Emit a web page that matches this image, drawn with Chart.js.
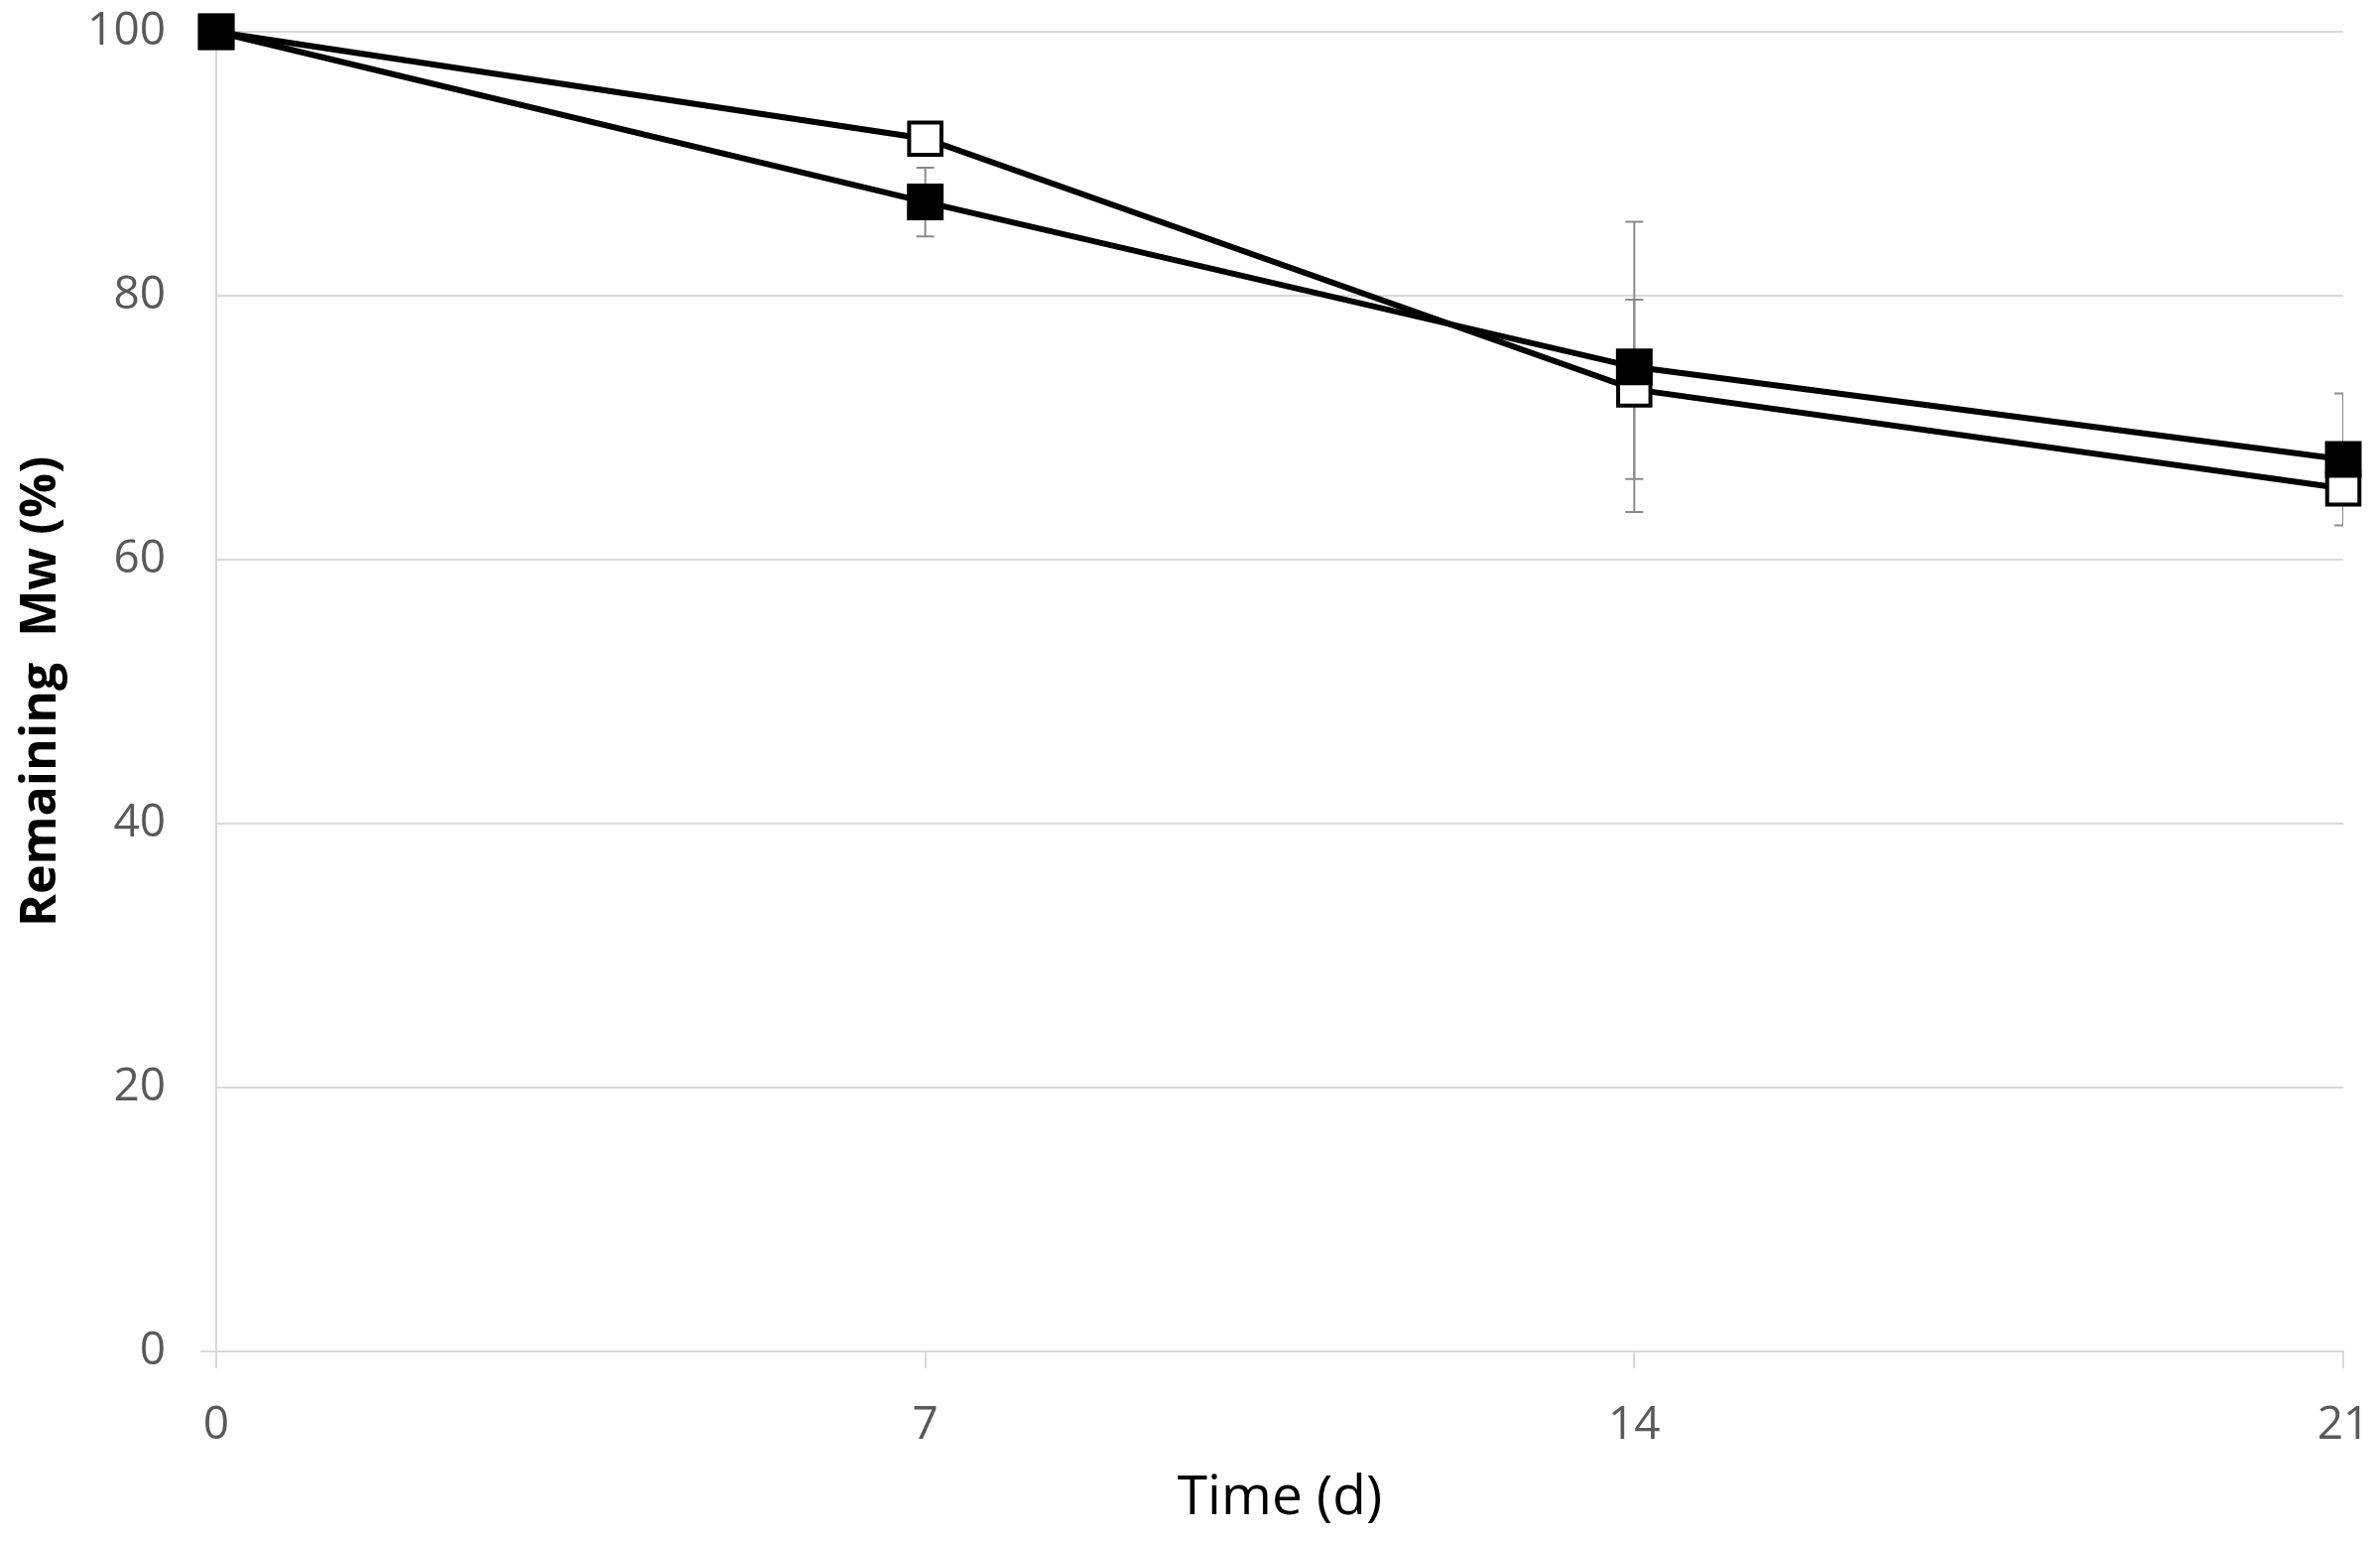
<!DOCTYPE html>
<html>
<head>
<meta charset="utf-8">
<script src="https://cdn.jsdelivr.net/npm/chart.js@4"></script>
<style>
  html, body { margin: 0; padding: 0; background: #fff; }
  #wrap { width: 2399px; height: 1553px; }
</style>
</head>
<body>
<div id="wrap"><canvas id="mwChart"></canvas></div>
<script>
// days of incubation
const days = [0, 7, 14, 21];
// remaining Mw (%), filled squares and open squares
const filledMw = [100, 87.1, 74.6, 67.6];
const filledErr = [0, 2.6, 11.0, 5.0];
const openMw = [100, 91.9, 72.9, 65.4];
const openErr = [0, 1.0, 6.8, 1.0];
const yTicks = [0, 20, 40, 60, 80, 100];

function toPoints(vals) {
    return days.map((d, i) => ({ x: d, y: vals[i] }));
}

// error bars drawn with the chart's own scales, behind the markers
const errorBars = {
    id: 'errorBars',
    beforeDatasetsDraw(chart) {
        const ctx = chart.ctx;
        const xs = chart.scales.x;
        const ys = chart.scales.y;
        const area = chart.chartArea;
        const sets = [[filledMw, filledErr], [openMw, openErr]];
        ctx.save();
        ctx.beginPath();
        ctx.rect(area.left, area.top - 40, area.right - area.left, area.bottom - area.top + 80);
        ctx.clip();
        ctx.strokeStyle = '#8a8a8a';
        ctx.lineWidth = 2;
        sets.forEach(s => {
            days.forEach((d, i) => {
                const e = s[1][i];
                if (!e) return;
                const px = xs.getPixelForValue(d);
                const top = ys.getPixelForValue(s[0][i] + e);
                const bot = ys.getPixelForValue(s[0][i] - e);
                ctx.beginPath();
                ctx.moveTo(px, top); ctx.lineTo(px, bot);
                ctx.moveTo(px - 9, top); ctx.lineTo(px + 9, top);
                ctx.moveTo(px - 9, bot); ctx.lineTo(px + 9, bot);
                ctx.stroke();
            });
        });
        ctx.restore();
    }
};

const config = {
    type: 'line',
    data: {
        datasets: [{
            label: 'filled',
            data: toPoints(filledMw),
            borderColor: '#000',
            borderWidth: 6,
            backgroundColor: '#000',
            pointStyle: 'rect',
            pointRadius: 24,
            pointBorderWidth: 3,
            pointBorderColor: '#000',
            pointBackgroundColor: '#000',
            tension: 0,
            clip: false
        }, {
            label: 'open',
            data: toPoints(openMw),
            borderColor: '#000',
            borderWidth: 6,
            backgroundColor: '#fff',
            pointStyle: 'rect',
            pointRadius: 23,
            pointBorderWidth: 4,
            pointBorderColor: '#000',
            pointBackgroundColor: '#fff',
            tension: 0,
            clip: false
        }]
    },
    options: {
        responsive: true,
        maintainAspectRatio: false,
        animation: false,
        layout: { autoPadding: false, padding: { top: 32, right: 37, left: 0, bottom: 0 } },
        plugins: { legend: { display: false }, tooltip: { enabled: false } },
        scales: {
            x: {
                type: 'linear',
                min: 0,
                max: 21,
                afterBuildTicks: axis => { axis.ticks = days.map(v => ({ value: v })); },
                afterFit: axis => {
                    axis.height = 191;
                    axis.paddingLeft = 0;
                    axis.paddingRight = 0;
                },
                grid: { drawOnChartArea: false, color: '#d9d9d9', lineWidth: 2, tickLength: 17 },
                border: { color: '#d9d9d9', width: 2 },
                ticks: { color: '#595959', padding: 30, font: { family: 'Open Sans', size: 46 } },
                title: {
                    display: true,
                    text: 'Time (d)',
                    color: '#000',
                    padding: { top: 0, bottom: 10 },
                    font: { family: 'Open Sans', size: 55 }
                }
            },
            y: {
                min: 0,
                max: 100,
                afterBuildTicks: axis => { axis.ticks = yTicks.map(v => ({ value: v })); },
                afterFit: axis => {
                    axis.width = 218;
                    axis.paddingTop = 0;
                    axis.paddingBottom = 0;
                },
                grid: {
                    color: '#d9d9d9',
                    lineWidth: 2,
                    tickLength: 16,
                    tickColor: c => (c.tick && c.tick.value === 0 ? '#d9d9d9' : 'rgba(0,0,0,0)')
                },
                border: { color: '#d9d9d9', width: 2 },
                ticks: { color: '#595959', padding: 35, font: { family: 'Open Sans', size: 46 } },
                title: {
                    display: true,
                    text: 'Remaining  Mw (%)',
                    color: '#000',
                    padding: { top: 12, bottom: 0 },
                    font: { family: 'Open Sans', size: 50, weight: 'bold' }
                }
            }
        }
    },
    plugins: [errorBars]
};

const mwChart = new Chart(document.getElementById('mwChart').getContext('2d'), config);
</script>
</body>
</html>
